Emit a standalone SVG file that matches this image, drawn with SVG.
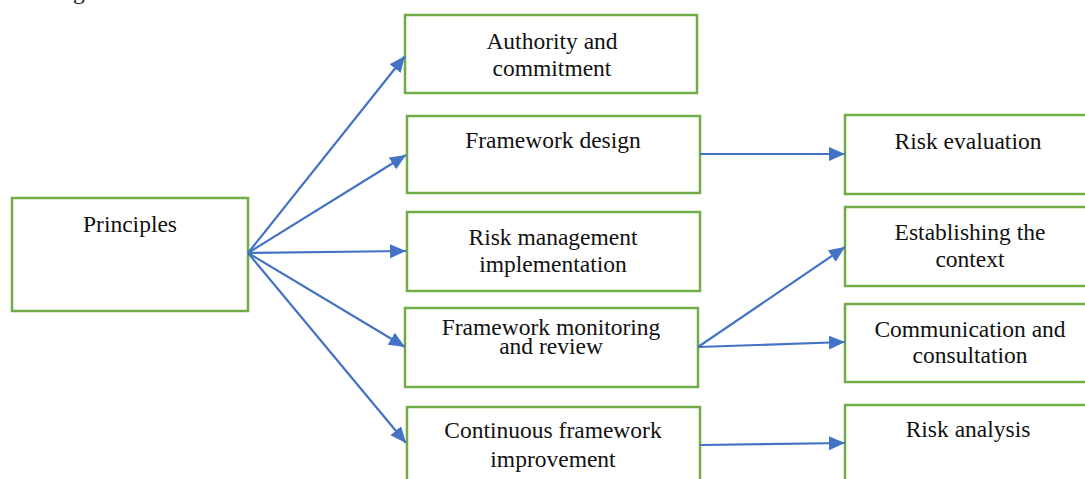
<svg xmlns="http://www.w3.org/2000/svg" width="1085" height="479" viewBox="0 0 1085 479">
<style>
.box{fill:#ffffff;stroke:#70AD47;stroke-width:2.5}
.t{font-family:"Liberation Serif","Times New Roman",serif;font-size:23.5px;fill:#111111;text-anchor:middle}
.c{stroke:#4472C4;stroke-width:2.2;fill:none;marker-end:url(#ah)}
</style>
<defs>
<marker id="ah" markerUnits="userSpaceOnUse" markerWidth="17" markerHeight="15" refX="16" refY="7" orient="auto">
<path d="M0,0 L16,7 L0,14 z" fill="#4472C4"/>
</marker>
</defs>
<rect width="1085" height="479" fill="#ffffff"/>
<text class="t" x="73" y="-1" text-anchor="start">ng</text>
<g id="principles"><rect class="box" x="12" y="198" width="236" height="113"/><text class="t" x="130" y="232">Principles</text></g>
<g id="authority"><rect class="box" x="405" y="15" width="292" height="78"/><text class="t" x="552" y="49">Authority and</text><text class="t" x="552" y="76">commitment</text></g>
<g id="design"><rect class="box" x="407" y="116" width="293" height="77"/><text class="t" x="553" y="148">Framework design</text></g>
<g id="implementation"><rect class="box" x="407" y="212" width="293" height="79"/><text class="t" x="553" y="245">Risk management</text><text class="t" x="553" y="272">implementation</text></g>
<g id="monitoring"><rect class="box" x="405" y="308" width="293" height="79"/><text class="t" x="551" y="335">Framework monitoring</text><text class="t" x="551" y="354">and review</text></g>
<g id="improvement"><rect class="box" x="407" y="407" width="293" height="80"/><text class="t" x="553" y="438">Continuous framework</text><text class="t" x="553" y="467">improvement</text></g>
<g id="evaluation"><rect class="box" x="845" y="115" width="250" height="79"/><text class="t" x="968" y="149">Risk evaluation</text></g>
<g id="context"><rect class="box" x="845" y="207" width="250" height="79"/><text class="t" x="970" y="240">Establishing the</text><text class="t" x="970" y="267">context</text></g>
<g id="communication"><rect class="box" x="845" y="304" width="250" height="78"/><text class="t" x="970" y="337">Communication and</text><text class="t" x="970" y="363">consultation</text></g>
<g id="analysis"><rect class="box" x="845" y="405" width="250" height="80"/><text class="t" x="968" y="437">Risk analysis</text></g>
<g id="connectors">
<line class="c" x1="248" y1="253" x2="405" y2="56"/>
<line class="c" x1="248" y1="253" x2="406" y2="155"/>
<line class="c" x1="248" y1="253" x2="406" y2="251"/>
<line class="c" x1="248" y1="253" x2="405" y2="347"/>
<line class="c" x1="248" y1="253" x2="406" y2="443"/>
<line class="c" x1="700" y1="154" x2="845" y2="154"/>
<line class="c" x1="698" y1="347" x2="845" y2="247"/>
<line class="c" x1="698" y1="347" x2="845" y2="342"/>
<line class="c" x1="700" y1="445" x2="845" y2="443"/>
</g>
</svg>
